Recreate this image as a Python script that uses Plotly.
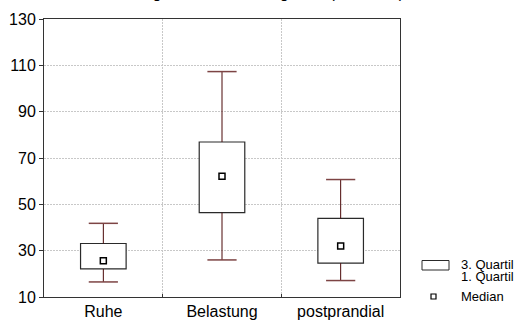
import plotly.graph_objects as go

categories = ["Ruhe", "Belastung", "postprandial"]
minimum = [16.5, 26.0, 17.1]
q1 = [22.1, 46.4, 24.6]
median = [25.6, 62.1, 32.0]
q3 = [33.1, 76.9, 43.9]
maximum = [41.8, 107.3, 60.7]
y_ticks = [10, 30, 50, 70, 90, 110, 130]
title_text = "Änderung der Durchblutung links (in ml/min)"

idx = list(range(len(categories)))
box_w = 0.384
cap_hw = 0.123

wx, wy = [], []
cx, cy = [], []
for i in idx:
    wx += [i, i, None, i, i, None]
    wy += [q3[i], maximum[i], None, minimum[i], q1[i], None]
    cx += [i - cap_hw, i + cap_hw, None, i - cap_hw, i + cap_hw, None]
    cy += [maximum[i], maximum[i], None, minimum[i], minimum[i], None]

fig = go.Figure()
fig.add_trace(go.Scatter(x=wx, y=wy, mode="lines",
                         line=dict(color="#4a0808", width=1), hoverinfo="skip"))
fig.add_trace(go.Scatter(x=cx, y=cy, mode="lines",
                         line=dict(color="#7d4444", width=1.5), hoverinfo="skip"))
fig.add_trace(go.Bar(x=idx, y=[q3[i] - q1[i] for i in idx], base=q1, width=box_w,
                     marker=dict(color="white", line=dict(color="#2a2a2a", width=1.2))))
fig.add_trace(go.Scatter(x=idx, y=median, mode="markers",
                         marker=dict(symbol="square-open", size=6, color="black",
                                     line=dict(width=1.5))))

fig.update_layout(
    width=526, height=323,
    margin=dict(l=44, r=126, t=19, b=25.5, pad=0, autoexpand=False),
    paper_bgcolor="white", plot_bgcolor="white",
    showlegend=False,
    font=dict(family="Liberation Sans, Arial, sans-serif", size=16, color="black"),
)
fig.update_xaxes(
    range=[-0.5, 2.5], tickvals=idx, ticktext=categories, ticks="",
    showgrid=False, zeroline=False, automargin=False,
    showline=True, linecolor="#333333", linewidth=1, mirror=True,
    tickfont=dict(size=16),
    minor=dict(tickvals=[0.5, 1.5], showgrid=True, gridcolor="#c8c8c8",
               griddash="2px,1px", gridwidth=1, ticks="inside", ticklen=3, tickcolor="#333333"),
)
fig.update_yaxes(
    range=[10, 130], tickvals=y_ticks, ticks="outside", ticklen=4, tickcolor="#333333",
    showgrid=True, gridcolor="#c8c8c8", griddash="2px,1px", gridwidth=1, zeroline=False,
    automargin=False,
    showline=True, linecolor="#333333", linewidth=1, mirror=True,
    tickfont=dict(size=16),
)

def px_x(p):
    return (p - 44) / 356

def px_y(p):
    return (297.5 - p) / 278

# title (mostly cut off at the top)
fig.add_annotation(text=title_text, xref="paper", yref="paper", x=px_x(406),
                   y=px_y(3.5), xanchor="right", yanchor="bottom",
                   showarrow=False, font=dict(size=16))

fig.add_shape(type="rect", xref="paper", yref="paper",
              x0=px_x(422), x1=px_x(449), y0=px_y(270.5), y1=px_y(261),
              line=dict(color="#2a2a2a", width=1), fillcolor="white")
fig.add_shape(type="rect", xref="paper", yref="paper",
              x0=px_x(431), x1=px_x(436), y0=px_y(299.5), y1=px_y(294.5),
              line=dict(color="black", width=1.2), fillcolor="white")
for txt, py in [("3. Quartil", 264.5), ("1. Quartil", 277), ("Median", 297)]:
    fig.add_annotation(text=txt, xref="paper", yref="paper", x=px_x(459), y=px_y(py),
                       xanchor="left", yanchor="middle", showarrow=False,
                       font=dict(size=13))

fig.write_html("out.html", config={"displayModeBar": False},
               post_script="document.body.style.margin='0';document.body.style.overflow='hidden';")
